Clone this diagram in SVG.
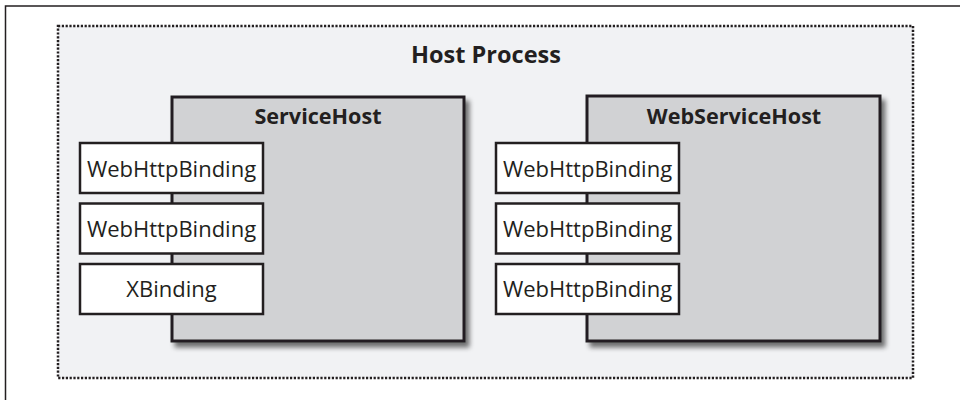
<svg xmlns="http://www.w3.org/2000/svg" width="960" height="400" viewBox="0 0 960 400">
<defs>
<filter id="sh" x="-10%" y="-10%" width="130%" height="130%">
<feGaussianBlur in="SourceAlpha" stdDeviation="2.5"/>
<feOffset dx="4" dy="5" result="b"/>
<feComponentTransfer><feFuncA type="linear" slope="0.55"/></feComponentTransfer>
<feMerge><feMergeNode/><feMergeNode in="SourceGraphic"/></feMerge>
</filter>
<style>
.frame{fill:none;stroke:#231f20;stroke-width:1.5}
.proc{fill:#f1f2f4;stroke:#231f20;stroke-width:2.5;stroke-dasharray:2.2 1.6}
.host{fill:#d1d2d4;stroke:#231f20;stroke-width:3}
.bind{fill:#ffffff;stroke:#231f20;stroke-width:2.5}
.t{font-family:"Open Sans","Liberation Sans",sans-serif;fill:#231f20;text-anchor:middle}
.b{font-size:22px}
.h{font-size:21.6px;font-weight:bold}
.p{font-size:23.5px;font-weight:bold}
</style>
</defs>
<path class="frame" d="M5.5,400 V6 H960"/>
<g id="host-process">
<rect class="proc" x="58" y="26" width="855" height="352"/>
<text class="t p" x="486" y="63">Host Process</text>
</g>
<g id="servicehost">
<rect class="host" x="172" y="97" width="292" height="244" filter="url(#sh)"/>
<text class="t h" x="318" y="124">ServiceHost</text>
</g>
<g id="webservicehost">
<rect class="host" x="587" y="96" width="293" height="245" filter="url(#sh)"/>
<text class="t h" x="734" y="123.5">WebServiceHost</text>
</g>
<g id="sh-binding-1"><rect class="bind" x="80" y="143" width="183" height="50"/><text class="t b" x="171.5" y="176.5">WebHttpBinding</text></g>
<g id="sh-binding-2"><rect class="bind" x="80" y="203.5" width="183" height="50"/><text class="t b" x="171.5" y="236.5">WebHttpBinding</text></g>
<g id="sh-binding-3"><rect class="bind" x="80" y="264" width="183" height="50"/><text class="t b" x="171.5" y="297">XBinding</text></g>
<g id="wsh-binding-1"><rect class="bind" x="496" y="143" width="183" height="50"/><text class="t b" x="587.5" y="176.5">WebHttpBinding</text></g>
<g id="wsh-binding-2"><rect class="bind" x="496" y="203.5" width="183" height="50"/><text class="t b" x="587.5" y="236.5">WebHttpBinding</text></g>
<g id="wsh-binding-3"><rect class="bind" x="496" y="264" width="183" height="50"/><text class="t b" x="587.5" y="297">WebHttpBinding</text></g>
<g id="connectors"></g>
</svg>
